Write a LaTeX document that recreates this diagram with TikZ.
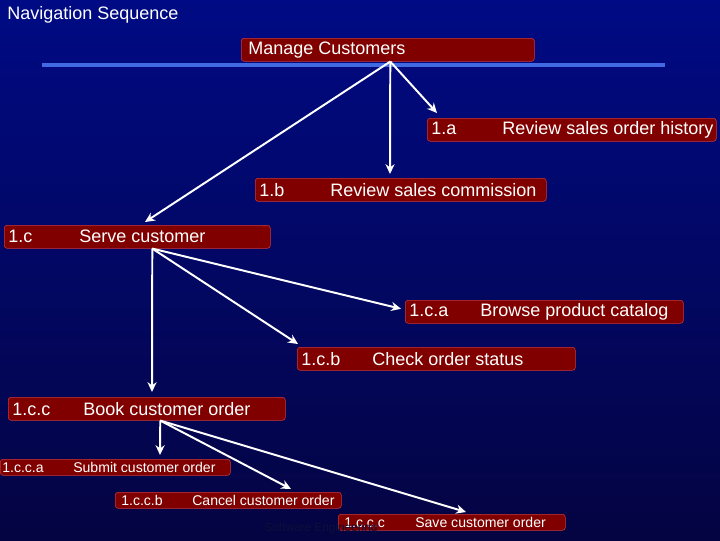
\documentclass[tikz,border=0pt]{standalone}
\usepackage{fontspec}
\setmainfont{Liberation Sans}
\usetikzlibrary{arrows.meta,calc}

\definecolor{boxfill}{RGB}{128,0,0}
\definecolor{boxedge}{RGB}{205,55,55}
\definecolor{rulecol}{RGB}{65,105,225}
\definecolor{bgtop}{RGB}{0,10,132}
\definecolor{bgbottom}{RGB}{4,4,66}
\definecolor{footcol}{RGB}{14,14,58}

\newdimen\pxu \pxu=0.025cm
% box text: code, then label at a fixed tab
\newcommand{\navitem}[3]{\makebox[#1\pxu][l]{\makebox[71\pxu][l]{#2}#3}}

\tikzset{
  navbox/.style={draw=boxedge, fill=boxfill, text=white, rounded corners=2pt,
    anchor=north west, inner xsep=0.1cm, inner ysep=0pt, minimum height=0.575cm,
    font=\fontsize{12.8}{14}\selectfont},
  smallbox/.style={navbox, minimum height=0.4cm, inner xsep=0.15cm,
    font=\fontsize{10}{11}\selectfont},
  navarrow/.style={draw=white, line width=1.4pt, -{Stealth[length=7pt,width=6.5pt]}}
}

\begin{document}
\begin{tikzpicture}[x=0.025cm, y=-0.025cm]
  % background
  \shade[top color=bgtop, bottom color=bgbottom] (0,0) rectangle (720,540);
  \useasboundingbox (0,0) rectangle (720,540);

  \node[anchor=west, inner sep=0pt, text=white, font=\fontsize{12.8}{14}\selectfont]
    (title) at (7,15) {Navigation Sequence};

  % rule under the top box
  \draw[rulecol, line width=2.2pt] (42,65) -- (665,65);

  % level 1
  \node[navbox, inner xsep=0.175cm] (mc) at (241,38) {\makebox[279\pxu][l]{Manage Customers}};
  \node[navbox] (ra) at (427,118) {\navitem{281}{1.a}{Review sales order history}};
  \node[navbox] (rc) at (255,178) {\navitem{283}{1.b}{Review sales commission}};
  \node[navbox] (sc) at (4,225) {\navitem{258}{1.c}{Serve customer}};

  % level 2
  \node[navbox] (ca) at (405,300) {\navitem{270}{1.c.a}{Browse product catalog}};
  \node[navbox] (cb) at (297,347) {\navitem{270}{1.c.b}{Check order status}};
  \node[navbox] (cc) at (8,397) {\navitem{269}{1.c.c}{Book customer order}};

  % level 3
  \node[smallbox, inner xsep=0.05cm] (cca) at (0,459) {\navitem{226}{1.c.c.a}{Submit customer order}};
  \node[smallbox] (ccb) at (115,492) {\navitem{214}{1.c.c.b}{Cancel customer order}};
  \node[smallbox] (ccc) at (338,514) {\navitem{215}{1.c.c.c}{Save customer order}};

  % arrows
  \coordinate (mcout) at ($(mc.south)+(2.5,0)$);
  \draw[navarrow] (mcout) -- ($(ra.north west)+(10,-5)$);
  \draw[navarrow] (mcout) -- ($(rc.north west)+(135,-4)$);
  \draw[navarrow] (mcout) -- ($(sc.north west)+(141,-3)$);

  \coordinate (scout) at ($(sc.south)+(15,0)$);
  \draw[navarrow] (scout) -- ($(ca.west)+(-4,-3)$);
  \draw[navarrow] (scout) -- ($(cb.north west)+(1,-3)$);
  \draw[navarrow] (scout) -- ($(cc.north west)+(144,-5)$);

  \coordinate (ccout) at ($(cc.south)+(13.5,0)$);
  \draw[navarrow] (ccout) -- ($(cca.north west)+(160,-4)$);
  \draw[navarrow] (ccout) -- ($(ccb.north west)+(176,-3)$);
  \draw[navarrow] (ccout) -- ($(ccc.north west)+(128,-2)$);

  \node[text=footcol, inner sep=0pt, font=\fontsize{8.4}{10}\selectfont]
    (foot) at (321,528) {Software Engineering};
\end{tikzpicture}
\end{document}
